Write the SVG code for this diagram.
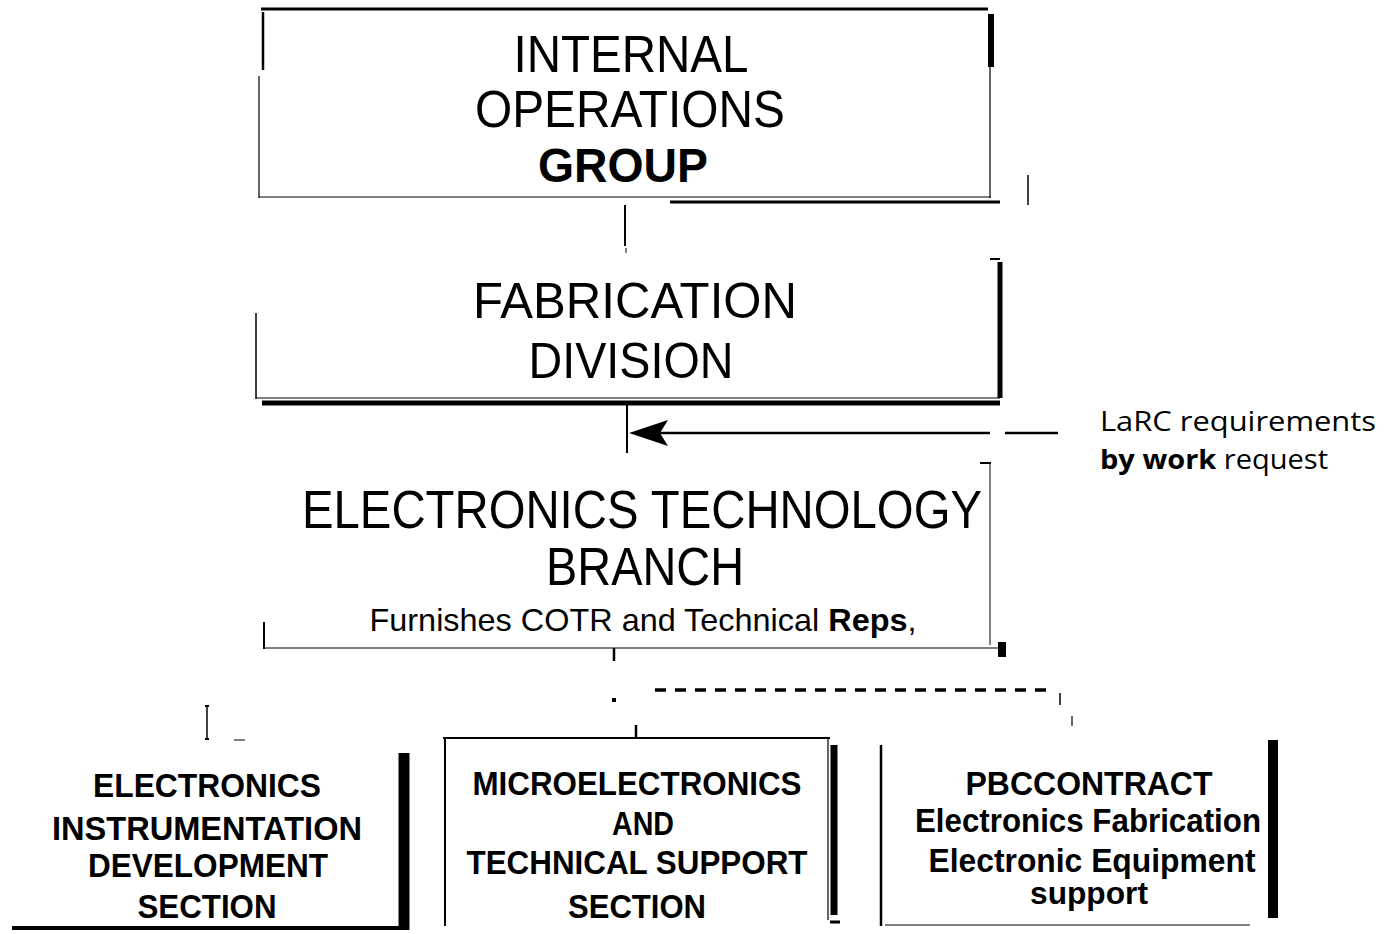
<svg xmlns="http://www.w3.org/2000/svg" width="1385" height="934" viewBox="0 0 1385 934">
<style>
.ln{stroke:#000;fill:none}
.t{font-family:"Liberation Sans",Arial,sans-serif;fill:#000;text-anchor:middle}
.b{font-weight:bold}
.s{font-family:"Open Sans","Noto Sans",sans-serif;fill:#000}
</style>
<rect width="1385" height="934" fill="#fff"/>
<g id="node-internal-operations">
<line class="ln" x1="261" y1="9" x2="988" y2="9" stroke-width="3"/>
<line class="ln" x1="263" y1="12" x2="263" y2="70" stroke-width="2.5"/>
<line class="ln" x1="259" y1="76" x2="259" y2="198" stroke-width="1.2"/>
<line class="ln" x1="991" y1="14" x2="991" y2="67" stroke-width="6"/>
<line class="ln" x1="990" y1="67" x2="990" y2="198" stroke-width="1.2"/>
<line class="ln" x1="259" y1="197" x2="991" y2="197" stroke-width="1.2"/>
<line class="ln" x1="670" y1="202" x2="1000" y2="202" stroke-width="3"/>
<line class="ln" x1="1028" y1="175" x2="1028" y2="205" stroke-width="1.5"/>
<text class="t" x="631" y="72" font-size="51" textLength="235" lengthAdjust="spacingAndGlyphs">INTERNAL</text>
<text class="t" x="630" y="127" font-size="51" textLength="310" lengthAdjust="spacingAndGlyphs">OPERATIONS</text>
<text class="t b" x="623" y="182" font-size="49" textLength="170" lengthAdjust="spacingAndGlyphs">GROUP</text>
</g>
<g id="node-fabrication-division">
<line class="ln" x1="256" y1="313" x2="256" y2="399" stroke-width="1.5"/>
<line class="ln" x1="256" y1="398" x2="1000" y2="398" stroke-width="1.2"/>
<line class="ln" x1="262" y1="403" x2="1000" y2="403" stroke-width="5"/>
<line class="ln" x1="990" y1="259" x2="1000" y2="259" stroke-width="2"/>
<line class="ln" x1="1000" y1="262" x2="1000" y2="398" stroke-width="5"/>
<text class="t" x="635" y="318" font-size="50" textLength="324" lengthAdjust="spacingAndGlyphs">FABRICATION</text>
<text class="t" x="631" y="378" font-size="50" textLength="205" lengthAdjust="spacingAndGlyphs">DIVISION</text>
</g>
<g id="node-electronics-technology-branch">
<line class="ln" x1="980" y1="463" x2="991" y2="463" stroke-width="2"/>
<line class="ln" x1="990" y1="463" x2="990" y2="645" stroke-width="1"/>
<line class="ln" x1="264" y1="622" x2="264" y2="649" stroke-width="2"/>
<line class="ln" x1="263" y1="648" x2="998" y2="648" stroke-width="1.2"/>
<rect x="998" y="642" width="8" height="15" fill="#000"/>
<text class="t" x="642" y="528" font-size="54" textLength="680" lengthAdjust="spacingAndGlyphs">ELECTRONICS TECHNOLOGY</text>
<text class="t" x="645" y="585" font-size="54" textLength="198" lengthAdjust="spacingAndGlyphs">BRANCH</text>
<text class="t" x="643" y="631" font-size="32" textLength="547" lengthAdjust="spacingAndGlyphs">Furnishes COTR and Technical <tspan font-weight="bold">Reps</tspan>,</text>
</g>
<g id="note-larc">
<text class="s" x="1100" y="431" font-size="27" textLength="276" lengthAdjust="spacingAndGlyphs">LaRC requirements</text>
<text class="s" x="1100" y="469" font-size="27" textLength="228" lengthAdjust="spacingAndGlyphs"><tspan font-weight="bold">by work</tspan> request</text>
</g>
<g id="node-electronics-instrumentation">
<line class="ln" x1="12" y1="928" x2="402" y2="928" stroke-width="4"/>
<line class="ln" x1="404" y1="753" x2="404" y2="930" stroke-width="11"/>
<text class="t b" x="207" y="797" font-size="34" textLength="228" lengthAdjust="spacingAndGlyphs">ELECTRONICS</text>
<text class="t b" x="207" y="840" font-size="34" textLength="310" lengthAdjust="spacingAndGlyphs">INSTRUMENTATION</text>
<text class="t b" x="208" y="877" font-size="34" textLength="240" lengthAdjust="spacingAndGlyphs">DEVELOPMENT</text>
<text class="t b" x="207" y="918" font-size="34" textLength="139" lengthAdjust="spacingAndGlyphs">SECTION</text>
</g>
<g id="node-microelectronics">
<line class="ln" x1="443" y1="738" x2="830" y2="738" stroke-width="2"/>
<line class="ln" x1="445" y1="738" x2="445" y2="926" stroke-width="2"/>
<line class="ln" x1="828" y1="738" x2="828" y2="920" stroke-width="1.2"/>
<line class="ln" x1="834" y1="745" x2="834" y2="915" stroke-width="7"/>
<line class="ln" x1="830" y1="922" x2="840" y2="922" stroke-width="3"/>
<text class="t b" x="637" y="795" font-size="34" textLength="329" lengthAdjust="spacingAndGlyphs">MICROELECTRONICS</text>
<text class="t b" x="643" y="835" font-size="34" textLength="62" lengthAdjust="spacingAndGlyphs">AND</text>
<text class="t b" x="637" y="874" font-size="34" textLength="341" lengthAdjust="spacingAndGlyphs">TECHNICAL SUPPORT</text>
<text class="t b" x="637" y="918" font-size="34" textLength="138" lengthAdjust="spacingAndGlyphs">SECTION</text>
</g>
<g id="node-pbc-contract">
<line class="ln" x1="881" y1="745" x2="881" y2="926" stroke-width="2.5"/>
<line class="ln" x1="885" y1="925" x2="1250" y2="925" stroke-width="1"/>
<line class="ln" x1="1273" y1="740" x2="1273" y2="918" stroke-width="10"/>
<text class="t b" x="1089" y="795" font-size="34" textLength="247" lengthAdjust="spacingAndGlyphs">PBCCONTRACT</text>
<text class="t b" x="1088" y="832" font-size="34" textLength="346" lengthAdjust="spacingAndGlyphs">Electronics Fabrication</text>
<text class="t b" x="1092" y="872" font-size="34" textLength="327" lengthAdjust="spacingAndGlyphs">Electronic Equipment</text>
<text class="t b" x="1089" y="904" font-size="31" textLength="118" lengthAdjust="spacingAndGlyphs">support</text>
</g>
<g id="connectors">
<line class="ln" x1="625" y1="205" x2="625" y2="246" stroke-width="2"/>
<line class="ln" x1="626" y1="248" x2="626" y2="253" stroke-width="1"/>
<line class="ln" x1="627" y1="404" x2="627" y2="453" stroke-width="2"/>
<line class="ln" x1="660" y1="433" x2="990" y2="433" stroke-width="2.5"/>
<polygon points="629,433 668,420 660,433 668,446" fill="#000"/>
<line class="ln" x1="1005" y1="433" x2="1058" y2="433" stroke-width="2.5"/>
<line class="ln" x1="614" y1="648" x2="614" y2="661" stroke-width="2.5"/>
<rect x="612" y="698" width="4" height="4" fill="#000"/>
<line class="ln" x1="655" y1="690" x2="1048" y2="690" stroke-width="3.5" stroke-dasharray="11,9"/>
<line class="ln" x1="1060" y1="693" x2="1060" y2="705" stroke-width="1.5"/>
<line class="ln" x1="1072" y1="716" x2="1072" y2="726" stroke-width="1.2"/>
<line class="ln" x1="636" y1="725" x2="636" y2="738" stroke-width="2.5"/>
<line class="ln" x1="207" y1="705" x2="207" y2="740" stroke-width="1.5"/>
<line class="ln" x1="205" y1="706" x2="209" y2="706" stroke-width="2"/>
<line class="ln" x1="205" y1="739" x2="209" y2="739" stroke-width="2"/>
<line class="ln" x1="234" y1="740" x2="245" y2="740" stroke-width="1"/>
</g>
</svg>
